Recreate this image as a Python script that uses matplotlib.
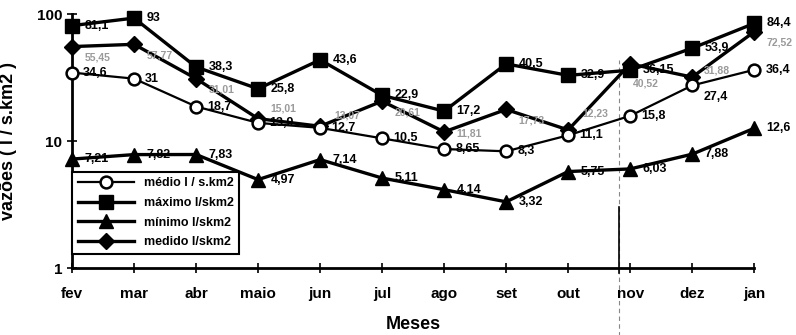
import numpy as np
import matplotlib
matplotlib.use("Agg")
import matplotlib.pyplot as plt
from matplotlib.ticker import FixedLocator, FixedFormatter, NullLocator

plt.rcParams['font.family'] = ['Liberation Sans Narrow', 'DejaVu Sans Condensed', 'Liberation Sans', 'DejaVu Sans']
plt.rcParams['font.weight'] = 'bold'

# monthly specific discharges (l/s.km2)
meses = ["fev", "mar", "abr", "maio", "jun", "jul", "ago", "set", "out", "nov", "dez", "jan"]
medio = [34.6, 31, 18.7, 13.9, 12.7, 10.5, 8.65, 8.3, 11.1, 15.8, 27.4, 36.4]
maximo = [81.1, 93, 38.3, 25.8, 43.6, 22.9, 17.2, 40.5, 32.9, 36.15, 53.9, 84.4]
minimo = [7.21, 7.82, 7.83, 4.97, 7.14, 5.11, 4.14, 3.32, 5.75, 6.03, 7.88, 12.6]
medido = [55.45, 57.77, 31.01, 15.01, 13.07, 20.61, 11.81, 17.73, 12.23, 40.52, 31.88, 72.52]

def fmt(v):
    s = ("%.2f" % v).rstrip("0").rstrip(".")
    return s.replace(".", ",")

fig = plt.figure(figsize=(7.96, 3.35), dpi=100)
ax = fig.add_axes([0.0905, 0.2, 0.857, 0.758])
x = np.arange(len(meses))

ax.plot(x, medio, color="black", lw=1.6, marker="o", ms=8.5, mfc="white",
        mec="black", mew=1.8, clip_on=False, label="médio l / s.km2", zorder=4)
ax.plot(x, maximo, color="black", lw=2.4, marker="s", ms=10, clip_on=False,
        label="máximo l/skm2", zorder=3)
ax.plot(x, minimo, color="black", lw=2.4, marker="^", ms=10, clip_on=False,
        label="mínimo l/skm2", zorder=3)
ax.plot(x, medido, color="black", lw=2.4, marker="D", ms=8, clip_on=False,
        label="medido l/skm2", zorder=3)

# label offsets in points; a few are nudged so they don't collide
off_medio = [(8, 0)] * 12
off_medio[10] = (8, -8)
off_medido = [(9, -8)] * 12
off_medido[3] = (9, 7)
off_medido[4] = (10, 8)
off_medido[6] = (9, -1)
off_medido[8] = (10, 12)
off_medido[9] = (2, -14)
off_medido[10] = (8, 5)

for xi, v, o in zip(x, medio, off_medio):
    ax.annotate(fmt(v), (xi, v), xytext=o, textcoords="offset points",
                ha="left", va="center", fontsize=9, weight="bold")
for xi, v in zip(x, maximo):
    ax.annotate(fmt(v), (xi, v), xytext=(9, 0), textcoords="offset points",
                ha="left", va="center", fontsize=9, weight="bold")
for xi, v in zip(x, minimo):
    ax.annotate(fmt(v), (xi, v), xytext=(9, 0), textcoords="offset points",
                ha="left", va="center", fontsize=9, weight="bold")
for xi, v, o in zip(x, medido, off_medido):
    ax.annotate(fmt(v), (xi, v), xytext=o, textcoords="offset points",
                ha="left", va="center", fontsize=7.5, color="#9a9a9a")

ax.set_yscale("log")
ax.set_ylim(1, 100)
ax.set_xlim(0, 11)
ax.yaxis.set_major_locator(FixedLocator([1, 10, 100]))
ax.yaxis.set_major_formatter(FixedFormatter(["1", "10", "100"]))
ax.yaxis.set_minor_locator(NullLocator())
ax.set_xticks(x)
ax.set_xticklabels(meses)

for side in ["top", "right"]:
    ax.spines[side].set_visible(False)
for side in ["left", "bottom"]:
    ax.spines[side].set_linewidth(2)
ax.tick_params(direction="inout", length=7, width=1.2, labelsize=11)
ax.tick_params(axis="x", pad=10)

ax.set_xlabel("Meses", fontsize=13, weight="bold", labelpad=11)
ax.set_ylabel("vazões ( l / s.km2 )", fontsize=13, weight="bold", labelpad=14)

# fold line across the page
ax.axvline(8.82, ymin=-0.27, ymax=0.82, color="#888888", lw=0.8, ls=(0, (4, 3)),
           clip_on=False, zorder=1)
ax.axvline(8.82, ymin=-0.02, ymax=0.24, color="black", lw=1.2, clip_on=False, zorder=1)

leg = ax.legend(loc="upper left", bbox_to_anchor=(0.0, 0.38), borderaxespad=0,
                fancybox=False, edgecolor="black", framealpha=1,
                handlelength=4.5, labelspacing=0.62, borderpad=0.45,
                prop={"weight": "bold", "size": 9})
leg.get_frame().set_linewidth(1.5)

fig.savefig("out.png", dpi=100)
